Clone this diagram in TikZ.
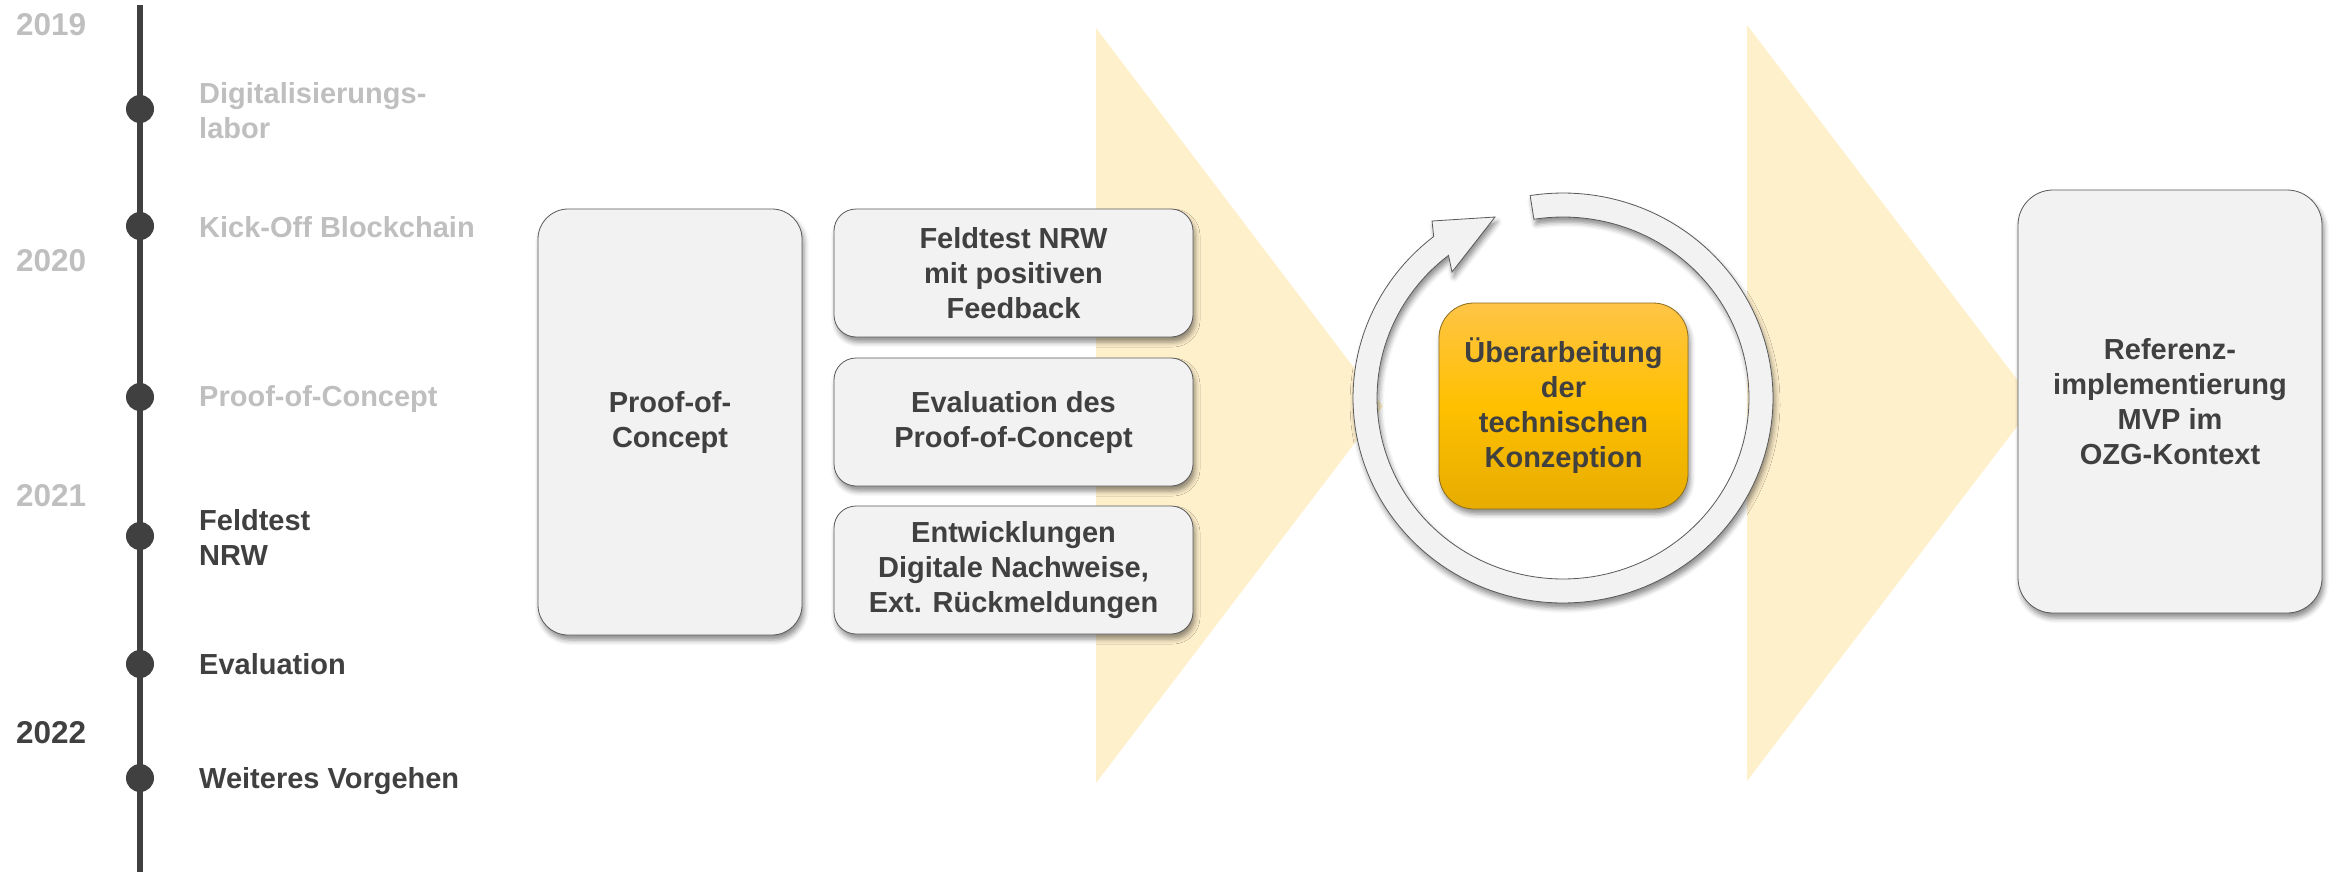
\documentclass[tikz,border=0pt]{standalone}
\usepackage{fontspec}
\setmainfont{Liberation Sans}
\usetikzlibrary{shadows.blur}
\definecolor{dark}{HTML}{404040}
\definecolor{light}{HTML}{BFBFBF}
\definecolor{boxfill}{HTML}{F2F2F2}
\definecolor{boxline}{HTML}{595959}
\definecolor{tri}{HTML}{FFF0CC}
\definecolor{goldtop}{HTML}{FFC446}
\definecolor{goldmid}{HTML}{FFC000}
\definecolor{goldbot}{HTML}{E6AC00}
\definecolor{goldline}{HTML}{8C6D1F}
\tikzset{
  txt/.style={font=\fontsize{29}{35}\selectfont\bfseries},
  yr/.style={font=\fontsize{31.5}{36}\selectfont\bfseries, anchor=west, inner sep=0},
  tl/.style={txt, anchor=west, align=left, inner sep=0},
  shad/.style={blur shadow={shadow xshift=2pt, shadow yshift=-5pt, shadow blur radius=5pt, shadow opacity=45}},
  card/.style={shad, draw=boxline, fill=boxfill, line width=0.8pt, txt, text=dark, align=center, inner sep=0},
  dot/.style={circle, fill=dark, minimum size=28pt, inner sep=0},
  tri/.style={fill=tri},
}
\begin{document}
\begin{tikzpicture}[x=1pt,y=-1pt]
\useasboundingbox (0,0) rectangle (2333,872);
% background triangles
\fill[tri] (1096,28) -- (1383,406) -- (1096,783) -- cycle;
\fill[tri] (1747,25) -- (2035,403) -- (1747,781) -- cycle;
% timeline
\coordinate (tltop) at (140,5);
\coordinate (tlbot) at (140,872);
\draw[dark, line width=6pt] (tltop) -- (tlbot);
\node[yr, text=light] (y19) at (16,25) {2019};
\node[yr, text=light] (y20) at (16,261) {2020};
\node[yr, text=light] (y21) at (16,496) {2021};
\node[yr, text=dark] (y22) at (16,733) {2022};
\node[dot] (d1) at (140,109) {};
\node[dot] (d2) at (140,226) {};
\node[dot] (d3) at (140,397) {};
\node[dot] (d4) at (140,536) {};
\node[dot] (d5) at (140,664) {};
\node[dot] (d6) at (140,778) {};
\node[tl, text=light] (l1) at (199,111) {Digitalisierungs-\\labor};
\node[tl, text=light] (l2) at (199,227) {Kick-Off Blockchain};
\node[tl, text=light] (l3) at (199,399) {Proof-of-Concept};
\node[tl, text=dark] (l4) at (199,537) {Feldtest\\NRW};
\node[tl, text=dark] (l5) at (199,664) {Evaluation};
\node[tl, text=dark] (l6) at (199,781) {Weiteres Vorgehen};
% boxes
\node[card, rounded corners=30pt, minimum width=264pt, minimum height=426pt] (poc) at (670,422) {Proof-of-\\Concept};
\node[card, rounded corners=22pt, minimum width=359pt, minimum height=128pt] (b1) at (1013.5,273) {Feldtest NRW\\mit positiven\\Feedback};
\node[card, rounded corners=22pt, minimum width=359pt, minimum height=128pt] (b2) at (1013.5,422) {Evaluation des\\Proof-of-Concept};
\node[card, rounded corners=22pt, minimum width=359pt, minimum height=128pt] (b3) at (1013.5,570) {Entwicklungen\\Digitale Nachweise,\\Ext. R\"uckmeldungen};
% circular arrow
\draw[shad, draw=boxline, fill=boxfill, line width=0.8pt, line join=miter]
  plot[domain=-99:232, samples=150] ({1563+210*cos(\x)},{398+205*sin(\x)})
  -- (1432,221) -- (1495,217) -- (1452,272)
  -- plot[domain=232:-99, samples=150] ({1563+186*cos(\x)},{398+181*sin(\x)})
  -- cycle;
\node[shad, draw=goldline, line width=0.8pt, rounded corners=35pt, top color=goldtop, bottom color=goldbot, middle color=goldmid, minimum width=249pt, minimum height=206pt, txt, text=dark, align=center, inner sep=0] (ueb) at (1563.5,406) {\"Uberarbeitung\\der\\technischen\\Konzeption};
\node[card, rounded corners=35pt, minimum width=304pt, minimum height=423pt] (ref) at (2170,401.5) {Referenz-\\implementierung\\MVP im\\OZG-Kontext};
\end{tikzpicture}
\end{document}
